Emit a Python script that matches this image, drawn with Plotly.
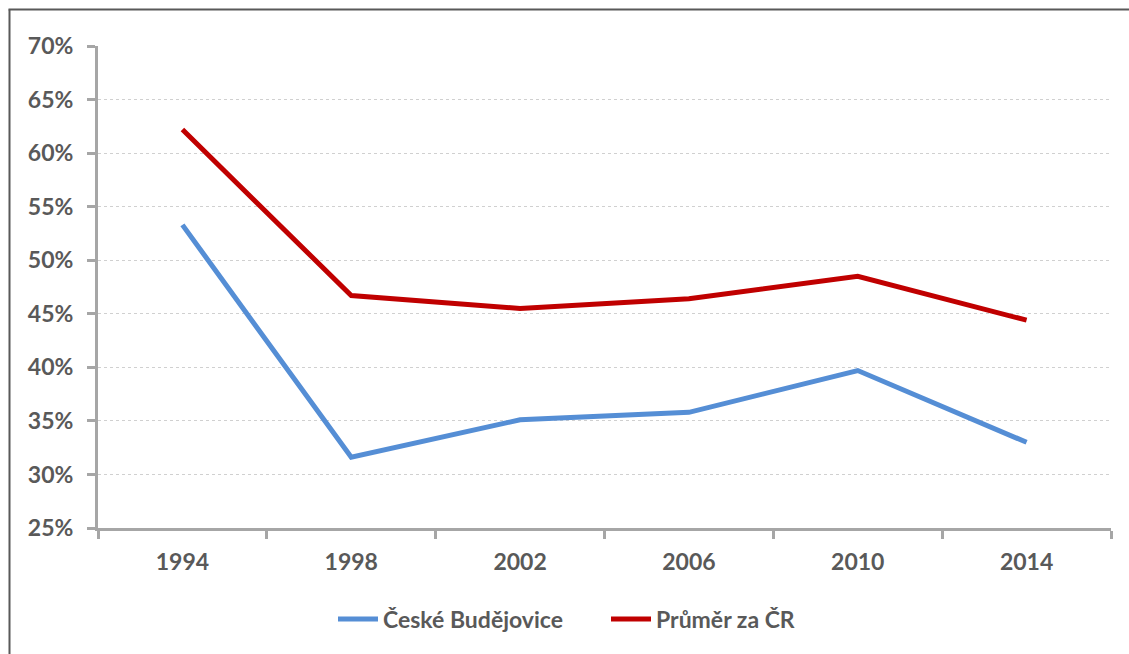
import plotly.graph_objects as go

years = ["1994", "1998", "2002", "2006", "2010", "2014"]
cb_values = [0.533, 0.316, 0.351, 0.358, 0.397, 0.330]
cr_values = [0.622, 0.467, 0.455, 0.464, 0.485, 0.444]
series_names = ["České Budějovice", "Průměr za ČR"]
y_ticks = [0.25, 0.30, 0.35, 0.40, 0.45, 0.50, 0.55, 0.60, 0.65, 0.70]

FONT = "Lato"
GRAY = "#595959"
FS = 23

fig = go.Figure()
fig.add_trace(go.Scatter(x=years, y=cb_values, mode="lines", name=series_names[0],
                         line=dict(color="#558ED5", width=5)))
fig.add_trace(go.Scatter(x=years, y=cr_values, mode="lines", name=series_names[1],
                         line=dict(color="#C00000", width=5)))

W, H = 1129, 654
L, T, R, B = 98, 46, 18, 126
pw, ph = W - L - R, H - T - B

def px_x(x):
    return (x - L) / pw

def px_y(y):
    return (H - B - y) / ph

# outer chart border (left and top edges visible; right/bottom lie outside the view)
fig.add_shape(type="line", xref="paper", yref="paper",
              x0=px_x(9.5), x1=px_x(9.5), y0=px_y(H + 20), y1=px_y(9.5),
              line=dict(color=GRAY, width=2), layer="above")
fig.add_shape(type="line", xref="paper", yref="paper",
              x0=px_x(8.5), x1=px_x(W + 20), y0=px_y(9.5), y1=px_y(9.5),
              line=dict(color=GRAY, width=2), layer="above")

fig.update_layout(
    width=W, height=H,
    margin=dict(l=L, r=R, t=T, b=B),
    paper_bgcolor="white", plot_bgcolor="white",
    font=dict(family=FONT, color=GRAY, size=FS, weight="bold"),
    showlegend=True,
    legend=dict(orientation="h", x=px_x(333), y=px_y(619), xanchor="left", yanchor="middle",
                font=dict(family=FONT, size=FS, color=GRAY, weight="bold"),
                itemwidth=40, entrywidth=218, tracegroupgap=0, bgcolor="rgba(0,0,0,0)"),
)
fig.update_xaxes(
    type="category", categoryorder="array", categoryarray=years,
    range=[-0.5, len(years) - 0.5],
    tickson="boundaries", ticks="outside", ticklen=8, tickwidth=3, tickcolor="#A6A6A6",
    showline=True, linecolor="#A6A6A6", linewidth=3,
    showgrid=False, zeroline=False, ticklabelstandoff=11,
    tickfont=dict(family=FONT, size=FS, color=GRAY, weight="bold"),
)
fig.update_yaxes(
    range=[0.25, 0.70], tickvals=y_ticks, tickformat=".0%",
    ticks="outside", ticklen=8, tickwidth=3, tickcolor="#A6A6A6",
    showline=True, linecolor="#A6A6A6", linewidth=3,
    showgrid=True, gridcolor="#D0D0D0", griddash="dot", gridwidth=1,
    zeroline=False, ticklabelstandoff=9,
    tickfont=dict(family=FONT, size=FS, color=GRAY, weight="bold"),
)

fig.write_html("out.html", config={"displayModeBar": False},
               post_script="document.body.style.margin='0';document.body.style.overflow='hidden';")
